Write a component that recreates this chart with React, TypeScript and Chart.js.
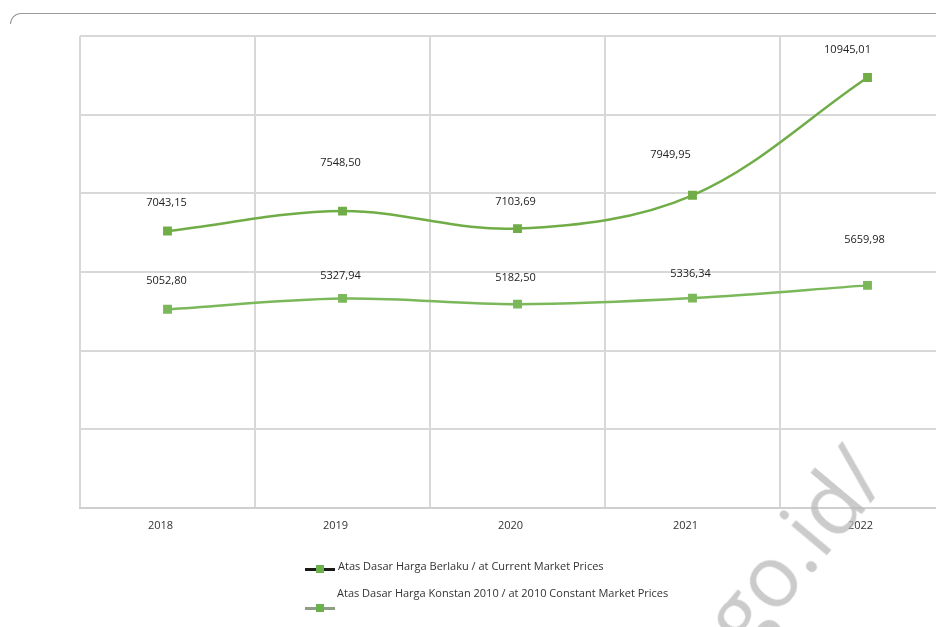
import React, { useEffect, useRef } from "react";
import { Chart, registerables } from "chart.js";

Chart.register(...registerables);

const categories = ["2018", "2019", "2020", "2021", "2022"];
const currentPrices = [7043.15, 7548.5, 7103.69, 7949.95, 10945.01];
const constantPrices = [5052.8, 5327.94, 5182.5, 5336.34, 5659.98];
const seriesNames = [
  "Atas Dasar Harga Berlaku /  at Current Market Prices",
  "Atas Dasar Harga Konstan 2010 / at 2010 Constant Market Prices",
];
// label offsets (style only) relative to each point
const labelOffsetsCurrent = [[-1, -28], [-2, -48], [-2, -27], [-22, -40], [-20, -28]];
const labelOffsetsConstant = [[-1, -28], [-2, -23], [-2, -26], [-2, -24], [-3, -46]];

const fmt = (v: number) => v.toFixed(2).replace(".", ",");

const labelPlugin = {
  id: "pointLabels",
  afterDatasetsDraw(chart: any) {
    const ctx = chart.ctx;
    ctx.save();
    ctx.font = "11px 'Open Sans', sans-serif";
    ctx.fillStyle = "#222";
    ctx.textAlign = "center";
    ctx.textBaseline = "middle";
    const offs = [labelOffsetsCurrent, labelOffsetsConstant];
    chart.data.datasets.forEach((ds: any, di: number) => {
      const meta = chart.getDatasetMeta(di);
      meta.data.forEach((pt: any, i: number) => {
        const [dx, dy] = offs[di][i];
        ctx.fillText(fmt(ds.data[i]), pt.x + dx, pt.y + dy);
      });
    });
    ctx.restore();
  },
};

function LegendSymbol({ line }: { line: string }) {
  return (
    <div style={{ position: "relative", width: 30, height: 8 }}>
      <div style={{ position: "absolute", left: 0, top: 3, width: 30, height: 3, background: line }} />
      <div style={{ position: "absolute", left: 11, top: 0, width: 8, height: 8, background: "#6ab04c" }} />
    </div>
  );
}

export default function App() {
  const ref = useRef<HTMLCanvasElement>(null);
  useEffect(() => {
    if (!ref.current) return;
    const chart = new Chart(ref.current, {
      type: "line",
      data: {
        labels: categories,
        datasets: [
          {
            label: seriesNames[0],
            data: currentPrices,
            borderColor: "#70AD47",
            backgroundColor: "#70AD47",
            borderWidth: 2.5,
            pointStyle: "rect",
            pointRadius: 4.5,
            tension: 0.35,
          },
          {
            label: seriesNames[1],
            data: constantPrices,
            borderColor: "#7ab85a",
            backgroundColor: "#7ab85a",
            borderWidth: 2.5,
            pointStyle: "rect",
            pointRadius: 4.5,
            tension: 0.35,
          },
        ],
      },
      options: {
        responsive: false,
        animation: false,
        layout: { padding: { top: 36, right: 45, left: 0, bottom: 0 } },
        plugins: { legend: { display: false }, tooltip: { enabled: false } },
        scales: {
          x: {
            offset: true,
            grid: { offset: true, color: "#d8d8d8", lineWidth: 2, drawTicks: false },
            border: { color: "#cfcfcf", width: 2 },
            ticks: {
              padding: 11,
              labelOffset: -7,
              color: "#333",
              font: { size: 11, family: "'Open Sans', sans-serif" },
            },
            afterFit: (s: any) => {
              s.height = 119;
            },
          },
          y: {
            min: 0,
            max: 12000,
            ticks: { stepSize: 2000, display: false },
            grid: { color: "#d8d8d8", lineWidth: 2, drawTicks: false },
            border: { display: false },
            afterFit: (s: any) => {
              s.width = 80;
            },
          },
        },
      },
      plugins: [labelPlugin],
    });
    return () => chart.destroy();
  }, []);

  const textStyle: React.CSSProperties = {
    position: "absolute",
    fontFamily: "'Open Sans', sans-serif",
    fontSize: 11,
    color: "#333",
    whiteSpace: "nowrap",
  };

  return (
    <div
      style={{
        position: "fixed",
        left: 0,
        top: 0,
        width: 936,
        height: 627,
        overflow: "hidden",
        background: "#fff",
      }}
    >
      <canvas ref={ref} width={1000} height={627} style={{ position: "absolute", left: 0, top: 0 }} />
      <div
        style={{
          position: "absolute",
          left: 10,
          top: 13,
          width: 960,
          height: 10,
          borderTop: "1px solid #9a9a9a",
          borderLeft: "1px solid #9a9a9a",
          borderTopLeftRadius: 12,
        }}
      />
      <div style={{ position: "absolute", left: 305, top: 565 }}>
        <LegendSymbol line="#1a1a1a" />
      </div>
      <div style={{ ...textStyle, left: 338, top: 558 }}>{seriesNames[0]}</div>
      <div style={{ ...textStyle, left: 337, top: 585 }}>{seriesNames[1]}</div>
      <div style={{ position: "absolute", left: 305, top: 604 }}>
        <LegendSymbol line="#8d9e84" />
      </div>
      <div
        style={{
          position: "absolute",
          left: 752,
          top: 574,
          fontFamily: "'Open Sans', sans-serif",
          fontSize: 86,
          color: "rgba(185,185,185,0.75)",
          transform: "rotate(-50deg)",
          transformOrigin: "0% 100%",
          lineHeight: "86px",
          whiteSpace: "nowrap",
        }}
      >
        go.id/
      </div>
    </div>
  );
}
